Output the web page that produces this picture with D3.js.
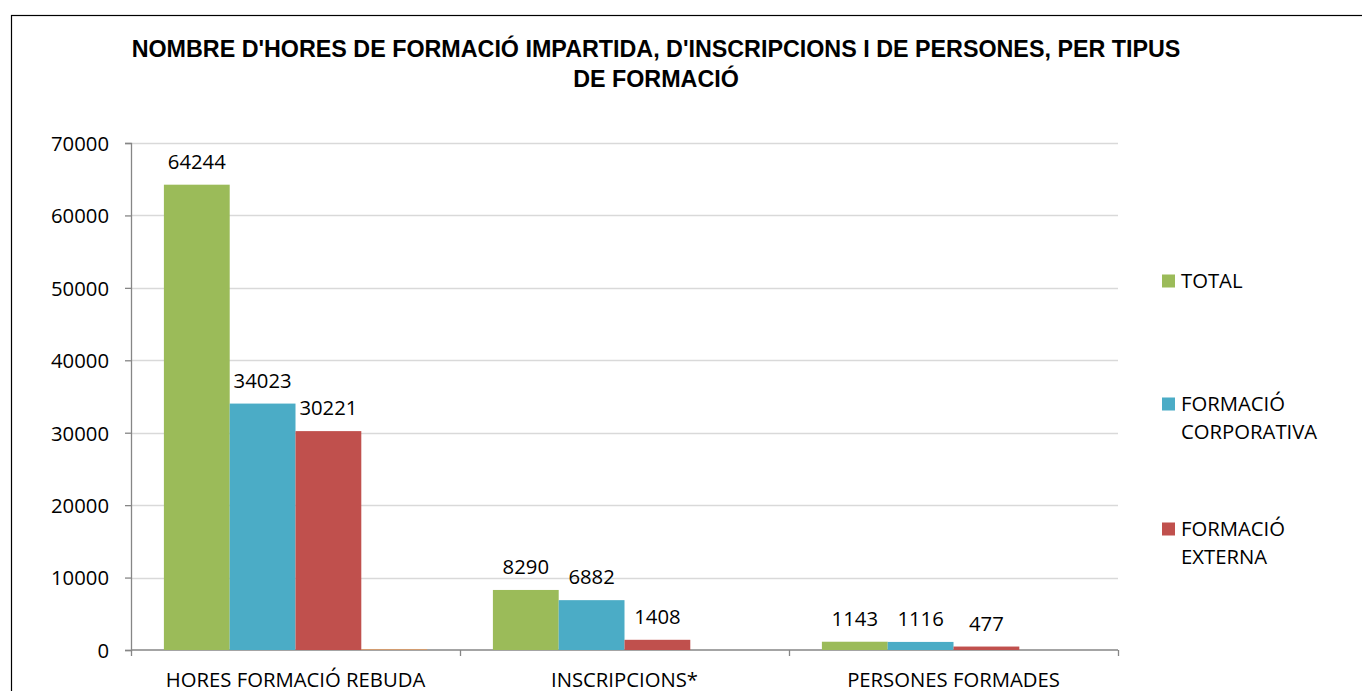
<!DOCTYPE html>
<html>
<head>
<meta charset="utf-8">
<script src="https://cdn.jsdelivr.net/npm/d3@7"></script>
<style>
  body { margin: 0; background: #fff; }
  svg { display: block; }
</style>
</head>
<body>
<svg id="chart" width="1362" height="691"></svg>
<script>
// data
const categories = ["HORES FORMACIÓ REBUDA", "INSCRIPCIONS*", "PERSONES FORMADES"];
const total = [64244, 8290, 1143];
const corporativa = [34023, 6882, 1116];
const externa = [30221, 1408, 477];
const extra = [140, 0, 0]; // empty 4th series, only a sliver in the first group
const seriesNames = ["TOTAL", "FORMACIÓ CORPORATIVA", "FORMACIÓ EXTERNA", ""];
const yTicks = [0, 10000, 20000, 30000, 40000, 50000, 60000, 70000];

const colors = ["#9BBB59", "#4BACC6", "#C0504D", "#F79646"];
const seriesValues = [total, corporativa, externa, extra];
const titleLines = ["NOMBRE D'HORES DE FORMACIÓ IMPARTIDA, D'INSCRIPCIONS I DE PERSONES, PER TIPUS", "DE FORMACIÓ"];

const svg = d3.select("#chart");
const font = "'Open Sans', 'Noto Sans', sans-serif";
const fontSize = "20.3px";
const margin = {top: 143, left: 131, right: 244, bottom: 41};
const width = 1362 - margin.left - margin.right;  // 987
const height = 691 - margin.top - margin.bottom;  // 507

// chart border (runs past the window on the right and bottom)
svg.append("rect")
  .attr("x", 11.5).attr("y", 15.5)
  .attr("width", 1400).attr("height", 720)
  .attr("fill", "none").attr("stroke", "#000").attr("stroke-width", 1.2);

// title
svg.append("g").selectAll("text").data(titleLines).join("text")
  .attr("x", 656).attr("y", (d, i) => 57 + i * 30)
  .attr("text-anchor", "middle")
  .style("font-family", "'Liberation Sans', Arial, sans-serif")
  .style("font-weight", "bold").style("font-size", "23.3px")
  .text(d => d);

const g = svg.append("g").attr("transform", `translate(${margin.left},${margin.top})`);

const y = d3.scaleLinear().domain([0, 70000]).range([height, 0]);
const x0 = d3.scaleBand().domain(categories).range([0, width]).padding(0);
const x1 = d3.scaleBand().domain(d3.range(seriesValues.length)).range([0, x0.bandwidth()]).paddingInner(0).paddingOuter(0.5);

// gridlines
g.append("g").selectAll("line").data(yTicks.filter(d => d > 0)).join("line")
  .attr("x1", 0).attr("x2", width)
  .attr("y1", d => Math.round(y(d)) + 0.5).attr("y2", d => Math.round(y(d)) + 0.5)
  .attr("stroke", "#d9d9d9").attr("stroke-width", 1.3);

// y axis
const yaxis = d3.axisLeft(y).tickValues(yTicks).tickSize(6).tickFormat(d3.format("d"));
const g_yaxis = g.append("g").call(yaxis);
g_yaxis.select(".domain").attr("stroke", "#868686").attr("stroke-width", 1.3);
g_yaxis.selectAll(".tick line").attr("stroke", "#868686").attr("stroke-width", 1.3);
g_yaxis.selectAll(".tick text")
  .attr("x", -22).attr("dy", "0.36em")
  .style("font-family", font).style("font-size", fontSize).attr("fill", "#000");

// x axis: ticks sit between the categories
const xaxis = d3.axisBottom(d3.scalePoint().domain(d3.range(categories.length + 1)).range([0, width]))
  .tickSize(6).tickFormat("");
const g_xaxis = g.append("g").attr("transform", `translate(0,${height})`).call(xaxis);
g_xaxis.select(".domain").attr("stroke", "#868686").attr("stroke-width", 1.3).attr("d", `M0,0H${width}`);
g_xaxis.selectAll(".tick line").attr("stroke", "#868686").attr("stroke-width", 1.3);

g.append("g").selectAll("text").data(categories).join("text")
  .attr("x", d => x0(d) + x0.bandwidth() / 2)
  .attr("y", height + 37)
  .attr("text-anchor", "middle")
  .style("font-family", font).style("font-size", fontSize)
  .text(d => d);

// bars
const groups = g.append("g").selectAll("g").data(categories).join("g")
  .attr("transform", d => `translate(${x0(d)},0)`);

groups.selectAll("rect")
  .data((d, ci) => seriesValues.map((vals, si) => ({si, v: vals[ci]})))
  .join("rect")
  .attr("x", d => x1(d.si))
  .attr("width", x1.bandwidth())
  .attr("y", d => y(d.v))
  .attr("height", d => height - y(d.v))
  .attr("fill", d => colors[d.si])
  .attr("opacity", d => d.si === 3 ? 0.55 : 1);

// value labels
groups.selectAll("text")
  .data((d, ci) => seriesValues.slice(0, 3).map((vals, si) => ({si, v: vals[ci]})))
  .join("text")
  .attr("x", d => x1(d.si) + x1.bandwidth() / 2)
  .attr("y", d => y(d.v) - 16)
  .attr("text-anchor", "middle")
  .style("font-family", font).style("font-size", fontSize)
  .text(d => d.v);

// legend
const legendY = [281, 404, 529];
const legend = svg.append("g").selectAll("g").data(seriesNames.slice(0, 3)).join("g")
  .attr("transform", (d, i) => `translate(1162,${legendY[i]})`);
legend.append("rect")
  .attr("x", 0).attr("y", -6.5).attr("width", 13).attr("height", 13)
  .attr("fill", (d, i) => colors[i]);
legend.append("text")
  .style("font-family", font).style("font-size", fontSize)
  .selectAll("tspan").data(d => d.split(" ")).join("tspan")
  .attr("x", 19)
  .attr("y", (d, i) => 7 + i * 28)
  .text(d => d);
</script>
</body>
</html>
